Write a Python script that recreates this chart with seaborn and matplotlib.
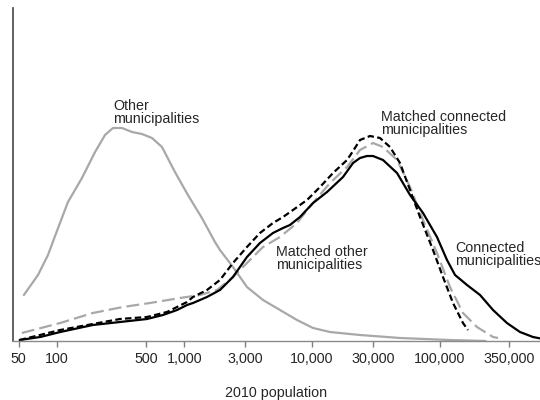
import matplotlib
matplotlib.use("Agg")
import matplotlib.pyplot as plt
import seaborn as sns
import pandas as pd

# ---- data (population, relative density) ----
other_pop = [55, 71, 85, 102, 122, 157, 199, 238, 275, 324, 388, 464, 556, 666, 842, 1064,
             1370, 1734, 1898, 2400, 3090, 4127, 5613, 7625, 10190, 13840, 23790, 48980,
             120800, 230000]
other_den = [46, 66, 86, 113, 139, 163, 189, 206, 213, 213, 209, 207, 203, 194, 169, 146,
             123, 99, 91, 74, 54, 41, 31, 21, 13, 9, 6, 3,
             1, 0]

conn_pop = [51, 74, 106, 191, 312, 508, 678, 874, 1047, 1166, 1501, 1898, 2400, 3090, 3907,
            4943, 5927, 6714, 8050, 10190, 13120, 17510, 20990, 23790, 26990, 30080, 36040,
            46430, 58740, 74260, 95540, 114500, 132400, 164400, 208000, 262900, 338000,
            427700, 540900, 650000]
conn_den = [1, 4, 9, 16, 19, 22, 26, 31, 36, 38, 44, 51, 64, 84, 98,
            108, 113, 116, 124, 138, 149, 164, 178, 183, 185, 185, 181,
            168, 146, 128, 104, 81, 66, 56, 46, 31, 18,
            9, 4, 2]

mconn_pop = [51, 106, 312, 508, 729, 1047, 1166, 1501, 1898, 2400, 3090, 3907, 4943, 5927,
             7096, 9140, 11560, 14620, 18830, 20990, 23790, 28500, 34130, 40910, 48980,
             58740, 70330, 88940, 106500, 127600, 152800, 167300]
mconn_den = [1, 11, 22, 24, 29, 39, 44, 51, 61, 78, 94, 108, 118, 124,
             131, 141, 154, 168, 181, 190, 201, 205, 203, 194, 178,
             151, 124, 91, 64, 38, 18, 11]

mother_pop = [53, 106, 191, 329, 536, 922, 1324, 1799, 2400, 3090, 4127, 5613, 7625, 10190,
              13840, 18830, 23790, 30080, 36040, 46430, 58740, 74260, 95540, 120800,
              152800, 196800, 262900, 287800]
mother_den = [8, 18, 28, 34, 38, 43, 46, 51, 64, 78, 94, 104, 118, 138,
              158, 174, 191, 198, 194, 181, 154, 121, 88, 54,
              28, 14, 4, 3]

tick_vals = [50, 100, 500, 1000, 3000, 10000, 30000, 100000, 350000]
tick_labels = ["50", "100", "500", "1,000", "3,000", "10,000", "30,000", "100,000", "350,000"]

labels = [("Other\nmunicipalities", 275, 242),
          ("Matched connected\nmunicipalities", 34750, 231),
          ("Matched other\nmunicipalities", 5224, 96),
          ("Connected\nmunicipalities", 132400, 100)]

# ---- styling ----
sns.set_style("white")
plt.rcParams["font.family"] = ["Liberation Sans", "DejaVu Sans"]

fig = plt.figure(figsize=(5.4, 4.0), dpi=100)
ax = fig.add_axes([13 / 540, 59 / 400, 1 - 13 / 540, 333 / 400])

gray = "#a8a8a8"
lw = 1.6
common = dict(ax=ax, lw=lw, estimator=None, solid_joinstyle="round",
              dash_joinstyle="round")

df_o = pd.DataFrame({"pop": other_pop, "den": other_den})
df_mo = pd.DataFrame({"pop": mother_pop, "den": mother_den})
df_c = pd.DataFrame({"pop": conn_pop, "den": conn_den})
df_mc = pd.DataFrame({"pop": mconn_pop, "den": mconn_den})

sns.lineplot(data=df_o, x="pop", y="den", color=gray, **common)
sns.lineplot(data=df_mo, x="pop", y="den", color=gray, linestyle=(0, (5.8, 2.3)), **common)
sns.lineplot(data=df_c, x="pop", y="den", color="black", **common)
sns.lineplot(data=df_mc, x="pop", y="den", color="black", linestyle=(0, (2.9, 1.5)), **common)

ax.set_xscale("log")
ax.set_xlim(45.2, 614000)
ax.set_ylim(0, 333)

ax.set_xticks(tick_vals)
ax.set_xticklabels(tick_labels, fontsize=10.3)
ax.minorticks_off()
ax.set_yticks([])
ax.tick_params(axis="x", which="major", direction="out", length=4, width=1,
               color="#808080", pad=4, bottom=True)
ax.set_xlabel("2010 population", fontsize=10.3, labelpad=14)
ax.set_ylabel("")

for side in ["top", "right"]:
    ax.spines[side].set_visible(False)
ax.spines["left"].set_color("#555555")
ax.spines["left"].set_linewidth(1.3)
ax.spines["bottom"].set_color("#8a8a8a")
ax.spines["bottom"].set_linewidth(1.0)

for txt, x, y in labels:
    ax.text(x, y, txt, fontsize=10.3, ha="left", va="top", linespacing=0.95)

fig.savefig("out.png", dpi=100)
